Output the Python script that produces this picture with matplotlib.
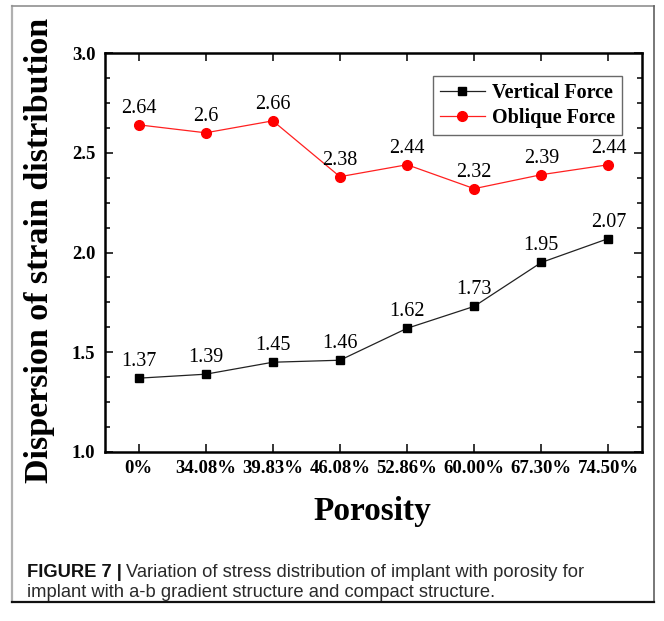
import matplotlib
matplotlib.use("Agg")
import matplotlib.pyplot as plt
from matplotlib.ticker import MultipleLocator, FixedLocator
from matplotlib.lines import Line2D

categories = ["0%", "34.08%", "39.83%", "46.08%", "52.86%", "60.00%", "67.30%", "74.50%"]
vertical = [1.37, 1.39, 1.45, 1.46, 1.62, 1.73, 1.95, 2.07]
oblique = [2.64, 2.6, 2.66, 2.38, 2.44, 2.32, 2.39, 2.44]
vertical_labels = ["1.37", "1.39", "1.45", "1.46", "1.62", "1.73", "1.95", "2.07"]
oblique_labels = ["2.64", "2.6", "2.66", "2.38", "2.44", "2.32", "2.39", "2.44"]
yticks = [1.0, 1.5, 2.0, 2.5, 3.0]

W, H = 664, 621
fig = plt.figure(figsize=(W / 100, H / 100), dpi=100)
serif = ["Liberation Serif", "DejaVu Serif"]

ax = fig.add_axes([105 / W, 1 - 452 / H, (642 - 105) / W, (452 - 53) / H])
x = list(range(len(categories)))

ax.plot(x, vertical, color="#222222", lw=0.9, marker="s", ms=6, mfc="black", mec="black",
        label="Vertical Force", zorder=3)
ax.plot(x, oblique, color="#ff2020", lw=0.9, marker="o", ms=7, mfc="red", mec="red",
        label="Oblique Force", zorder=3)

for xi, v, s in zip(x, vertical, vertical_labels):
    ax.annotate(s, (xi, v), xytext=(0, 12), textcoords="offset pixels", ha="center",
                va="baseline", fontsize=14.5, family=serif)
for xi, v, s in zip(x, oblique, oblique_labels):
    ax.annotate(s, (xi, v), xytext=(0, 12), textcoords="offset pixels", ha="center",
                va="baseline", fontsize=14.5, family=serif)

ax.set_xlim(-0.5, 7.5)
ax.set_ylim(1.0, 3.0)
ax.xaxis.set_major_locator(FixedLocator(x))
ax.set_xticklabels(categories)
ax.set_yticks(yticks)
ax.set_yticklabels([f"{t:.1f}" for t in yticks])
ax.yaxis.set_minor_locator(MultipleLocator(0.125))

for sp in ax.spines.values():
    sp.set_linewidth(1.8)
ax.tick_params(which="both", direction="in", top=True, right=True, width=1.1)
ax.tick_params(which="major", length=5.8)
ax.tick_params(which="minor", length=3.6)
ax.tick_params(axis="x", which="both", top=True, bottom=True)
ax.tick_params(axis="x", pad=6)
ax.tick_params(axis="y", pad=7)
for lab in ax.get_xticklabels() + ax.get_yticklabels():
    lab.set_family(serif)
    lab.set_fontweight("bold")
    lab.set_fontsize(13.5)

leg = ax.legend(loc="upper right", bbox_to_anchor=(0.963, 0.942), borderaxespad=0,
                prop={"family": serif, "weight": "bold", "size": 14.5},
                fancybox=False, frameon=True, edgecolor="#444444", handlelength=2.25,
                handletextpad=0.35, labelspacing=0.22, borderpad=0.35)
leg.get_frame().set_linewidth(1.0)

fig.text(40 / W, 1 - 250 / H, "Dispersion of strain distribution", rotation=90,
         ha="center", va="center", fontsize=24.5, fontweight="bold", family=serif)
fig.text(372 / W, 1 - 520 / H, "Porosity", ha="center", va="baseline",
         fontsize=24, fontweight="bold", family=serif)

cap_font = ["Liberation Sans", "DejaVu Sans"]
cap_size = 13.2
fig_lab = fig.text(27 / W, 1 - 577 / H, "FIGURE 7 |", fontsize=cap_size, family=cap_font,
                   fontweight="bold", va="baseline", color="#111111")
fig.canvas.draw()
bb = fig_lab.get_window_extent()
fig.text((bb.x1 + 4) / W, 1 - 577 / H,
         "Variation of stress distribution of implant with porosity for",
         fontsize=cap_size, family=cap_font, va="baseline", color="#2a2a2a")
fig.text(27 / W, 1 - 597 / H,
         "implant with a-b gradient structure and compact structure.",
         fontsize=cap_size, family=cap_font, va="baseline", color="#2a2a2a")

# outer frame
fig.add_artist(Line2D([12 / W, 12 / W], [1 - 6 / H, 1 - 602 / H], color="#b0b0b0", lw=1.6,
                      transform=fig.transFigure))
fig.add_artist(Line2D([12 / W, 654 / W], [1 - 6 / H, 1 - 6 / H], color="#909090", lw=1.2,
                      transform=fig.transFigure))
fig.add_artist(Line2D([654 / W, 654 / W], [1 - 6 / H, 1 - 602 / H], color="#606060", lw=1.2,
                      transform=fig.transFigure))
fig.add_artist(Line2D([12 / W, 654 / W], [1 - 602 / H, 1 - 602 / H], color="#111111", lw=1.6,
                      transform=fig.transFigure))

fig.savefig("out.png", dpi=100)
